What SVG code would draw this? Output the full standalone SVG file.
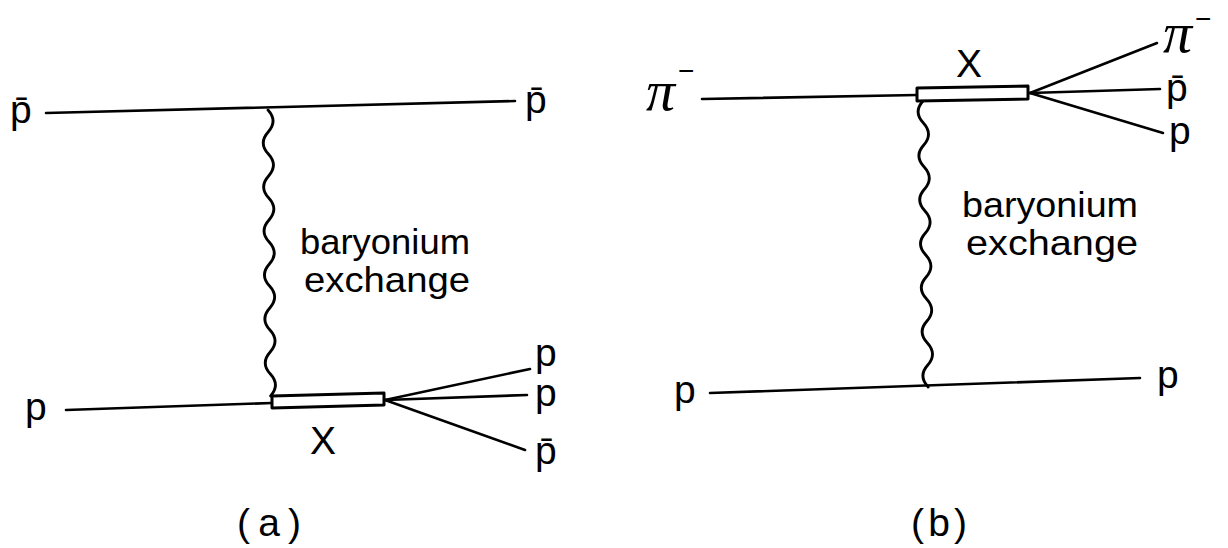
<svg xmlns="http://www.w3.org/2000/svg" width="1228" height="548" viewBox="0 0 1228 548">
<style>
.ln{stroke:#000;stroke-width:2.6;fill:none;stroke-linecap:round}
.wv{stroke:#000;stroke-width:2.8;fill:none;stroke-linecap:round}
.bx{stroke:#000;stroke-width:3;fill:#fff;stroke-linejoin:round}
.t{font-family:"Liberation Sans",Arial,sans-serif;fill:#000;font-size:39px}
.big{font-family:"Liberation Sans",Arial,sans-serif;fill:#000;font-size:35px}
.pi{font-family:"Liberation Serif","Times New Roman",serif;fill:#000;font-size:58px;font-style:italic}
.sup{font-family:"Liberation Sans",Arial,sans-serif;font-style:normal;font-size:28px}
</style>
<rect width="1228" height="548" fill="#fff"/>
<g id="connectors">
<line class="ln" x1="46" y1="113" x2="515" y2="101"/>
<line class="ln" x1="66" y1="410" x2="272" y2="403"/>
<line class="ln" x1="385" y1="400" x2="530" y2="369"/>
<line class="ln" x1="385" y1="400" x2="527" y2="395"/>
<line class="ln" x1="385" y1="400" x2="525" y2="450"/>
<path class="wv" d="M268,110 q10,11 0.2,22 q-10,11 0.2,22 q10,11 0.2,22 q-10,11 0.2,22 q10,11 0.2,22 q-10,11 0.2,22 q10,11 0.2,22 q-10,11 0.2,22 q10,11 0.2,22 q-10,11 0.2,22 q10,11 0.2,22 q-10,11 0.2,22 q10,11 0.2,22"/>
<line class="ln" x1="702" y1="99" x2="917" y2="95"/>
<line class="ln" x1="1030" y1="93" x2="1157" y2="43"/>
<line class="ln" x1="1030" y1="93" x2="1160" y2="89"/>
<line class="ln" x1="1030" y1="93" x2="1163" y2="133"/>
<path class="wv" d="M923,101 q-10,11 0.4,22 q10,11 0.4,22 q-10,11 0.4,22 q10,11 0.4,22 q-10,11 0.4,22 q10,11 0.4,22 q-10,11 0.4,22 q10,11 0.4,22 q-10,11 0.4,22 q10,11 0.4,22 q-10,11 0.4,22 q10,11 0.4,22 q-10,11 0.4,22"/>
<line class="ln" x1="710" y1="393" x2="1140" y2="378"/>
</g>
<g id="diagram-a">
<g id="a-X"><polygon class="bx" points="272,396 384,393 384,405 272,408"/><text class="t" x="310" y="454">X</text></g>
<g id="a-pbar-in"><text class="t" x="10" y="123">p̄</text></g>
<g id="a-pbar-out"><text class="t" x="525" y="113">p̄</text></g>
<g id="a-p-in"><text class="t" x="25" y="420">p</text></g>
<g id="a-p1"><text class="t" x="535" y="366">p</text></g>
<g id="a-p2"><text class="t" x="535" y="406">p</text></g>
<g id="a-pbar3"><text class="t" x="535" y="464">p̄</text></g>
<g id="a-label"><text class="big" x="300" y="254" textLength="170" lengthAdjust="spacingAndGlyphs">baryonium</text><text class="big" x="304" y="292" textLength="166" lengthAdjust="spacingAndGlyphs">exchange</text></g>
<g id="a-caption"><text class="t" x="237" y="536" textLength="64" lengthAdjust="spacing">( a )</text></g>
</g>
<g id="diagram-b">
<g id="b-X"><polygon class="bx" points="917,88 1028,86 1028,99 917,101"/><text class="t" x="956" y="77">X</text></g>
<g id="b-pi-in"><text class="pi" x="646" y="110">π<tspan class="sup" dx="3" dy="-30">−</tspan></text></g>
<g id="b-pi-out"><text class="pi" x="1163" y="52">π<tspan class="sup" dx="3" dy="-24">−</tspan></text></g>
<g id="b-pbar"><text class="t" x="1166" y="101">p̄</text></g>
<g id="b-p1"><text class="t" x="1169" y="144">p</text></g>
<g id="b-p-in"><text class="t" x="674" y="403">p</text></g>
<g id="b-p-out"><text class="t" x="1157" y="388">p</text></g>
<g id="b-label"><text class="big" x="962" y="217" textLength="176" lengthAdjust="spacingAndGlyphs">baryonium</text><text class="big" x="966" y="255" textLength="172" lengthAdjust="spacingAndGlyphs">exchange</text></g>
<g id="b-caption"><text class="t" x="911" y="536" textLength="56" lengthAdjust="spacing">(b)</text></g>
</g>
</svg>
